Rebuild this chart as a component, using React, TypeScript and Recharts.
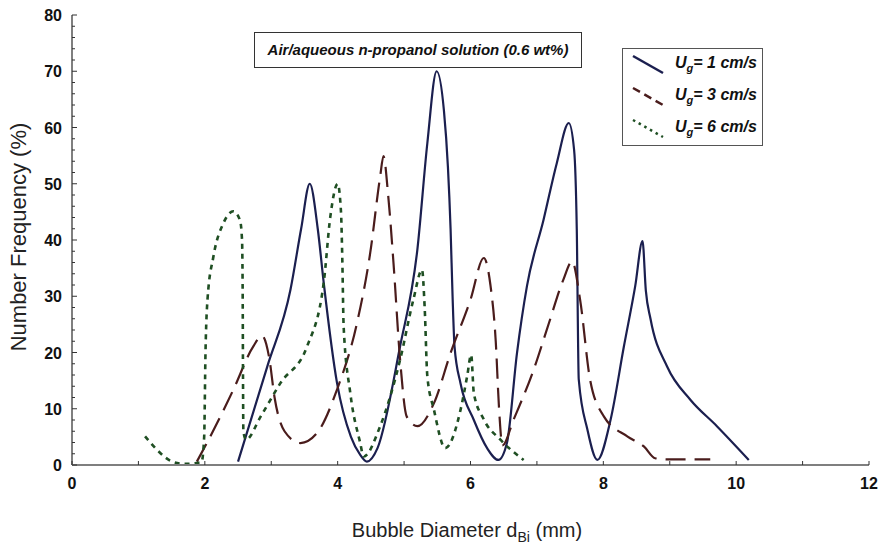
import React from 'react';
import { LineChart, Line, XAxis, YAxis, Label } from 'recharts';

// bubble size distributions, air / aqueous n-propanol (0.6 wt%)
const ug1 = [
  [2.5, 0.6], [2.94, 17.5], [3.29, 31.2], [3.45, 42], [3.58, 50], [3.7, 42], [3.79, 32.4],
  [3.99, 14.6], [4.2, 5], [4.34, 1.8], [4.44, 0.6], [4.6, 3], [4.94, 21.1], [5.2, 38.3],
  [5.35, 57.2], [5.49, 70], [5.6, 63], [5.66, 53], [5.7, 42], [5.73, 30], [5.76, 21],
  [5.85, 14.5], [6.05, 8], [6.25, 3], [6.42, 0.9], [6.55, 4], [6.7, 19.9], [6.85, 31.8],
  [7.1, 43.6], [7.3, 53.7], [7.48, 60.8], [7.56, 56], [7.6, 42], [7.63, 15.2], [7.76, 6.3],
  [7.91, 0.9], [8.11, 8.1], [8.31, 21.1], [8.48, 31.8], [8.59, 39.8], [8.64, 31], [8.71, 26],
  [8.96, 17.5], [9.31, 11.6], [9.71, 6.9], [10.19, 0.9],
].map(([x, y]) => ({ x, y }));

const ug3 = [
  [1.88, 0.6], [2.03, 3.9], [2.25, 9], [2.43, 13.4], [2.73, 21.1], [2.86, 23], [2.97, 19],
  [3.05, 12], [3.2, 6], [3.44, 3.9], [3.69, 5.7], [3.99, 13.4], [4.29, 25.2], [4.49, 37.7],
  [4.64, 51.3], [4.69, 54.9], [4.76, 48], [4.84, 36], [4.94, 18.7], [5.04, 8.6], [5.2, 6.9],
  [5.45, 11], [5.7, 19.9], [6.0, 29.4], [6.2, 36.8], [6.3, 32], [6.38, 22], [6.43, 10],
  [6.48, 3.5], [6.65, 8.1], [6.95, 16.9], [7.18, 25.2], [7.4, 33], [7.53, 36.2], [7.65, 29.4],
  [7.8, 15.2], [8.01, 8.6], [8.36, 5.1], [8.61, 3.3], [8.78, 1.2], [8.96, 1.0], [9.61, 1.0],
].map(([x, y]) => ({ x, y }));

const ug6 = [
  [1.1, 5.1], [1.28, 2.7], [1.51, 0.6], [1.7, 0.2], [1.95, 0.5], [1.99, 5], [2.01, 20],
  [2.04, 29.4], [2.13, 37.1], [2.28, 43], [2.43, 45.1], [2.53, 43.5], [2.56, 40], [2.57, 30],
  [2.575, 15], [2.58, 6], [2.62, 4.5], [2.84, 8.6], [3.14, 14.6], [3.54, 21.1], [3.79, 32.4],
  [3.89, 44.2], [4.0, 50], [4.05, 45], [4.07, 36.5], [4.09, 24.6], [4.19, 12.8], [4.34, 3.9],
  [4.39, 1.5], [4.64, 6.9], [4.94, 18.7], [5.14, 29.4], [5.27, 34.7], [5.31, 28], [5.35, 15.8],
  [5.45, 9.8], [5.62, 3], [5.85, 9.8], [5.95, 15.8], [6.01, 19.6], [6.05, 12.8], [6.2, 8.1],
  [6.45, 4.5], [6.8, 0.9],
].map(([x, y]) => ({ x, y }));

const xTicks = [0, 1, 2, 3, 4, 5, 6, 7, 8, 9, 10, 11, 12];
const yTicks = Array.from({ length: 41 }, (_, i) => i * 2);

const legendItems = [
  { speed: '1', color: '#1b1f4f', dash: undefined, width: 2.5 },
  { speed: '3', color: '#4a1c1c', dash: '8 5', width: 2.5 },
  { speed: '6', color: '#1f4f23', dash: '2.5 4', width: 2.5 },
];

const FONT = '"Liberation Sans", Arial, sans-serif';
const AXIS = { stroke: '#7f7f7f', strokeWidth: 2 };

// frame of the plot area (margin + axis sizes below)
const W = 880;
const H = 547;
const M = { top: 15, right: 11, left: 0, bottom: 0 };
const Y_W = 72;
const X_H = 82;
const LEFT = M.left + Y_W;
const RIGHT = W - M.right;
const TOP = M.top;
const BOTTOM = H - M.bottom - X_H;

function BottomTick({ x, payload }: any) {
  return (
    <g>
      <line x1={x} x2={x} y1={BOTTOM} y2={BOTTOM - 4} stroke="#333" strokeWidth={1} />
      {payload.value % 2 === 0 && (
        <text x={x} y={BOTTOM + 24} textAnchor="middle" fontFamily={FONT} fontWeight="bold" fontSize={16} fill="#111">
          {payload.value}
        </text>
      )}
    </g>
  );
}

function TopTick({ x }: any) {
  return <line x1={x} x2={x} y1={TOP} y2={TOP + 4} stroke="#333" strokeWidth={1} />;
}

function LeftTick({ y, payload }: any) {
  const major = payload.value % 10 === 0;
  return (
    <g>
      <line x1={LEFT} x2={LEFT + (major ? 5 : 3)} y1={y} y2={y} stroke="#333" strokeWidth={1} />
      {major && (
        <text x={LEFT - 10} y={y + 6} textAnchor="end" fontFamily={FONT} fontWeight="bold" fontSize={16} fill="#111">
          {payload.value}
        </text>
      )}
    </g>
  );
}

function RightTick({ y, payload }: any) {
  const major = payload.value % 10 === 0;
  return <line x1={RIGHT} x2={RIGHT - (major ? 5 : 3)} y1={y} y2={y} stroke="#333" strokeWidth={1} />;
}

export default function App() {
  return (
    <div style={{ position: 'absolute', left: 0, top: 0, width: W, height: H, background: '#fff' }}>
      <LineChart width={W} height={H} margin={M}>
        <XAxis
          xAxisId="b"
          type="number"
          dataKey="x"
          domain={[0, 12]}
          ticks={xTicks}
          interval={0}
          height={X_H}
          tickLine={false}
          axisLine={AXIS}
          tick={<BottomTick />}
        >
          <Label
            content={() => (
              <text x={467} y={537} textAnchor="middle" fontFamily={FONT} fontSize={20} fill="#222">
                Bubble Diameter d
                <tspan fontSize={14} dy={5}>Bi</tspan>
                <tspan dy={-5}> (mm)</tspan>
              </text>
            )}
          />
        </XAxis>
        <XAxis
          xAxisId="t"
          orientation="top"
          type="number"
          dataKey="x"
          domain={[0, 12]}
          ticks={xTicks}
          interval={0}
          height={0}
          tickLine={false}
          axisLine={AXIS}
          tick={<TopTick />}
        />
        <YAxis
          yAxisId="l"
          type="number"
          domain={[0, 80]}
          ticks={yTicks}
          interval={0}
          width={Y_W}
          tickLine={false}
          axisLine={AXIS}
          tick={<LeftTick />}
        >
          <Label
            content={() => (
              <text
                x={26}
                y={237}
                transform="rotate(-90 26 237)"
                textAnchor="middle"
                fontFamily={FONT}
                fontSize={22}
                fill="#222"
              >
                Number Frequency (%)
              </text>
            )}
          />
        </YAxis>
        <YAxis
          yAxisId="r"
          orientation="right"
          type="number"
          domain={[0, 80]}
          ticks={yTicks}
          interval={0}
          width={0}
          tickLine={false}
          axisLine={AXIS}
          tick={<RightTick />}
        />
        <Line
          xAxisId="b"
          yAxisId="l"
          data={ug1}
          dataKey="y"
          type="monotone"
          stroke="#1b1f4f"
          strokeWidth={2.2}
          dot={false}
          isAnimationActive={false}
        />
        <Line
          xAxisId="b"
          yAxisId="l"
          data={ug3}
          dataKey="y"
          type="monotone"
          stroke="#4a1c1c"
          strokeWidth={2.2}
          strokeDasharray="20 9"
          dot={false}
          isAnimationActive={false}
        />
        <Line
          xAxisId="b"
          yAxisId="l"
          data={ug6}
          dataKey="y"
          type="monotone"
          stroke="#1f4f23"
          strokeWidth={2.6}
          strokeDasharray="5 5"
          dot={false}
          isAnimationActive={false}
        />
      </LineChart>

      <div
        style={{
          position: 'absolute',
          left: 254,
          top: 32,
          width: 326,
          height: 34,
          border: '1px solid #333',
          background: '#fff',
          fontFamily: FONT,
          fontWeight: 'bold',
          fontStyle: 'italic',
          fontSize: 15,
          lineHeight: '34px',
          textAlign: 'center',
          color: '#111',
        }}
      >
        Air/aqueous n-propanol solution (0.6 wt%)
      </div>

      <div
        style={{
          position: 'absolute',
          left: 622,
          top: 48,
          width: 139,
          height: 96,
          border: '1.5px solid #555',
          background: '#fff',
          fontFamily: FONT,
          fontWeight: 'bold',
          fontStyle: 'italic',
          fontSize: 16,
          color: '#111',
        }}
      >
        {legendItems.map((it, i) => (
          <div key={it.speed} style={{ position: 'absolute', left: 0, top: i * 32, height: 32, width: 139 }}>
            <svg width={40} height={32} style={{ position: 'absolute', left: 8, top: 0 }}>
              <line
                x1={2}
                y1={7}
                x2={32}
                y2={24}
                stroke={it.color}
                strokeWidth={it.width}
                strokeDasharray={it.dash}
              />
            </svg>
            <div style={{ position: 'absolute', left: 52, top: 5, whiteSpace: 'nowrap' }}>
              U<sub style={{ fontSize: 11, verticalAlign: -4 }}>g</sub>= {it.speed} cm/s
            </div>
          </div>
        ))}
      </div>
    </div>
  );
}
